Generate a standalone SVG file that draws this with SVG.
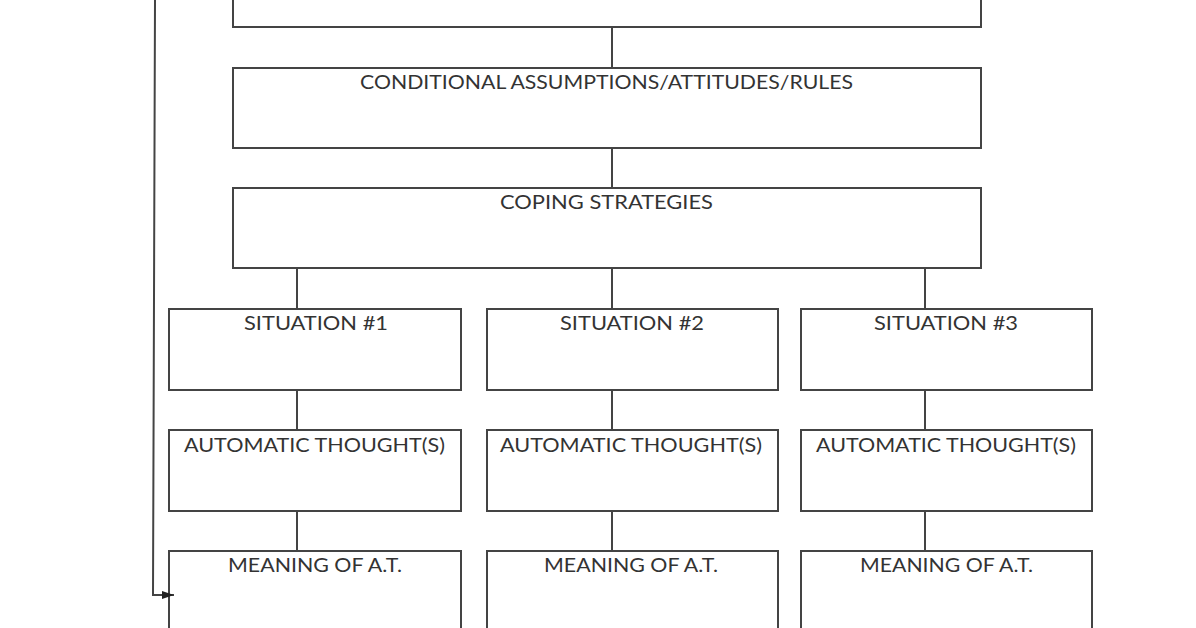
<svg xmlns="http://www.w3.org/2000/svg" width="1196" height="628" viewBox="0 0 1196 628">
<style>
.box{fill:#fff;stroke:#444;stroke-width:2}
.ln{fill:none;stroke:#444;stroke-width:2}
.t{font-family:Lato,"Open Sans","Liberation Sans",sans-serif;font-size:20px;fill:#333;text-anchor:middle}
</style>
<defs>
<marker id="arr" viewBox="0 0 12 8" refX="12" refY="4" markerWidth="6" markerHeight="4" orient="auto" markerUnits="strokeWidth">
<path d="M0,0 L12,4 L0,8 z" fill="#222"/>
</marker>
</defs>
<rect width="1196" height="628" fill="#fff"/>
<g id="top">
<rect class="box" x="233" y="-10" width="748" height="37"/>
</g>
<g id="conditional">
<rect class="box" x="233" y="68" width="748" height="80"/>
<text class="t" x="606.5" y="89" textLength="493" lengthAdjust="spacingAndGlyphs">CONDITIONAL ASSUMPTIONS/ATTITUDES/RULES</text>
</g>
<g id="coping">
<rect class="box" x="233" y="188" width="748" height="80"/>
<text class="t" x="606.5" y="209" textLength="213" lengthAdjust="spacingAndGlyphs">COPING STRATEGIES</text>
</g>
<g id="situation1">
<rect class="box" x="169" y="309" width="292" height="81"/>
<text class="t" x="316" y="330" textLength="144" lengthAdjust="spacingAndGlyphs">SITUATION #1</text>
</g>
<g id="situation2">
<rect class="box" x="487" y="309" width="291" height="81"/>
<text class="t" x="632" y="330" textLength="144" lengthAdjust="spacingAndGlyphs">SITUATION #2</text>
</g>
<g id="situation3">
<rect class="box" x="801" y="309" width="291" height="81"/>
<text class="t" x="946" y="330" textLength="144" lengthAdjust="spacingAndGlyphs">SITUATION #3</text>
</g>
<g id="auto1">
<rect class="box" x="169" y="430" width="292" height="81"/>
<text class="t" x="314.5" y="452" textLength="261" lengthAdjust="spacingAndGlyphs">AUTOMATIC THOUGHT(S)</text>
</g>
<g id="auto2">
<rect class="box" x="487" y="430" width="291" height="81"/>
<text class="t" x="631" y="452" textLength="262" lengthAdjust="spacingAndGlyphs">AUTOMATIC THOUGHT(S)</text>
</g>
<g id="auto3">
<rect class="box" x="801" y="430" width="291" height="81"/>
<text class="t" x="946" y="452" textLength="260" lengthAdjust="spacingAndGlyphs">AUTOMATIC THOUGHT(S)</text>
</g>
<g id="meaning1">
<rect class="box" x="169" y="551" width="292" height="90"/>
<text class="t" x="315" y="572" textLength="174" lengthAdjust="spacingAndGlyphs">MEANING OF A.T.</text>
</g>
<g id="meaning2">
<rect class="box" x="487" y="551" width="291" height="90"/>
<text class="t" x="631" y="572" textLength="174" lengthAdjust="spacingAndGlyphs">MEANING OF A.T.</text>
</g>
<g id="meaning3">
<rect class="box" x="801" y="551" width="291" height="90"/>
<text class="t" x="946.5" y="572" textLength="173" lengthAdjust="spacingAndGlyphs">MEANING OF A.T.</text>
</g>
<g id="connectors">
<line class="ln" x1="612" y1="27" x2="612" y2="68"/>
<line class="ln" x1="612" y1="148" x2="612" y2="188"/>
<line class="ln" x1="297" y1="268" x2="297" y2="309"/>
<line class="ln" x1="612" y1="268" x2="612" y2="309"/>
<line class="ln" x1="925" y1="268" x2="925" y2="309"/>
<line class="ln" x1="297" y1="390" x2="297" y2="430"/>
<line class="ln" x1="612" y1="390" x2="612" y2="430"/>
<line class="ln" x1="925" y1="390" x2="925" y2="430"/>
<line class="ln" x1="297" y1="511" x2="297" y2="551"/>
<line class="ln" x1="612" y1="511" x2="612" y2="551"/>
<line class="ln" x1="925" y1="511" x2="925" y2="551"/>
<path class="ln" d="M155,0 L153,595 L174,595" marker-end="url(#arr)"/>
</g>
</svg>
